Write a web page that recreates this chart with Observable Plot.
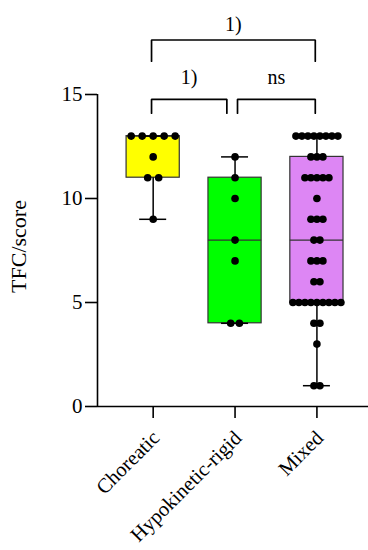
<!DOCTYPE html>
<html><head><meta charset="utf-8">
<script src="https://cdn.jsdelivr.net/npm/d3@7"></script>
<script src="https://cdn.jsdelivr.net/npm/@observablehq/plot@0.6"></script>
<style>body{margin:0;background:#fff}</style>
</head><body><div id="chart"></div>
<script>
const categories = ["Choreatic", "Hypokinetic-rigid", "Mixed"];
const choreatic = [13, 13, 13, 13, 13, 12, 11, 11, 9];
const hypokinetic = [12, 11, 10, 8, 7, 4, 4];
const mixed = [13, 13, 13, 13, 13, 13, 13, 13, 12, 12, 12, 11, 11, 11, 11, 11, 10, 9, 9, 9, 8, 8, 7, 7, 7, 6, 6,
  5, 5, 5, 5, 5, 5, 5, 5, 5, 4, 4, 3, 1, 1];
const groupFills = ["#ffff00", "#00ff00", "#dd86f4"];
const yTicks = [0, 5, 10, 15];
const yLabel = "TFC/score";
const comparisons = [
  {from: 0, to: 2, label: "1)", level: 1},
  {from: 0, to: 1, label: "1)", level: 0},
  {from: 1, to: 2, label: "ns", level: 0}
];

// layout constants
const PX = 81.9;               // pixels per category step
const xDomain = [-0.68, 2.63];
const boxHalf = 26.6 / PX, capHalf = 13.5 / PX;
const spacingPx = [11, 8.7, 6];
const levelY = [{top: 14.77, bot: 14.1, text: 15.83}, {top: 17.62, bot: 16.6, text: 18.34}];

function quant(s, p) {
  const n = s.length, pos = (n + 1) * p, lo = Math.floor(pos), f = pos - lo;
  if (lo < 1) return s[0];
  if (lo >= n) return s[n - 1];
  return s[lo - 1] + f * (s[lo] - s[lo - 1]);
}
const groups = [choreatic, hypokinetic, mixed];
const stats = groups.map((g, i) => {
  const s = [...g].sort((a, b) => a - b);
  return {i, fill: groupFills[i], min: s[0], max: s[s.length - 1],
    q1: quant(s, 0.25), med: quant(s, 0.5), q3: quant(s, 0.75),
    bx1: i - boxHalf, bx2: i + boxHalf, cx1: i - capHalf, cx2: i + capHalf};
});
const points = [];
groups.forEach((g, i) => {
  const counts = d3.rollup(g, v => v.length, d => d);
  for (const [v, k] of counts) {
    for (let j = 0; j < k; j++) points.push({x: i + (j - (k - 1) / 2) * spacingPx[i] / PX, v});
  }
});
const bracketPts = [];
const bracketText = [];
comparisons.forEach((c, n) => {
  const L = levelY[c.level];
  const x1 = c.from + (c.level === 0 && c.from > 0 ? 0.03 : -0.02);
  const x2 = c.to - (c.level === 0 && c.to < 2 ? 0.1 : 0.02);
  bracketPts.push({n, x: x1, y: L.bot}, {n, x: x1, y: L.top}, {n, x: x2, y: L.top}, {n, x: x2, y: L.bot});
  bracketText.push({x: (x1 + x2) / 2, y: L.text, label: c.label});
});

const chart = Plot.plot({
  width: 368, height: 550,
  marginLeft: 97, marginRight: 0, marginTop: 94, marginBottom: 144,
  style: {fontFamily: "'Liberation Serif', 'Times New Roman', serif", fontSize: "20px", background: "white", color: "black"},
  x: {type: "linear", domain: xDomain},
  y: {domain: [0, 15]},
  marks: [
    Plot.rect(stats, {x1: "bx1", x2: "bx2", y1: "q1", y2: "q3", fill: "fill", stroke: "#333", strokeWidth: 1.2}),
    Plot.ruleY(stats, {y: "med", x1: "bx1", x2: "bx2", stroke: "#333", strokeWidth: 1.2}),
    Plot.ruleX(stats, {x: "i", y1: "q3", y2: "max", stroke: "black", strokeWidth: 1.5}),
    Plot.ruleX(stats, {x: "i", y1: "min", y2: "q1", stroke: "black", strokeWidth: 1.5}),
    Plot.ruleY(stats, {y: "max", x1: "cx1", x2: "cx2", stroke: "black", strokeWidth: 1.5}),
    Plot.ruleY(stats, {y: "min", x1: "cx1", x2: "cx2", stroke: "black", strokeWidth: 1.5}),
    Plot.dot(points, {x: "x", y: "v", r: 3.8, fill: "black", stroke: "none"}),
    Plot.ruleY([0], {stroke: "black", strokeWidth: 1.6}),
    Plot.ruleX([xDomain[0]], {y1: 0, y2: 15, stroke: "black", strokeWidth: 1.6}),
    Plot.axisY({ticks: yTicks, tickSize: 12, tickPadding: 3, strokeWidth: 1.6, fontSize: 21, label: null}),
    Plot.text([yLabel], {frameAnchor: "left", textAnchor: "middle", dx: -79, dy: -4, rotate: -90, fontSize: 22, fill: "black"}),
    Plot.axisX({ticks: [0, 1, 2], tickFormat: () => "", tickSize: 12, strokeWidth: 1.6, label: null}),
    Plot.axisX({ticks: [0, 1, 2], tickFormat: i => categories[i], tickRotate: -45, tickSize: 0,
      tickPadding: 28, dx: 3, fontSize: 20.5, label: null}),
    Plot.line(bracketPts, {x: "x", y: "y", z: "n", stroke: "black", strokeWidth: 1.7, strokeLinejoin: "miter", curve: "linear"}),
    Plot.text(bracketText, {x: "x", y: "y", text: "label", fontSize: 20, fill: "black"})
  ]
});
document.getElementById("chart").appendChild(chart);
</script>
</body></html>
